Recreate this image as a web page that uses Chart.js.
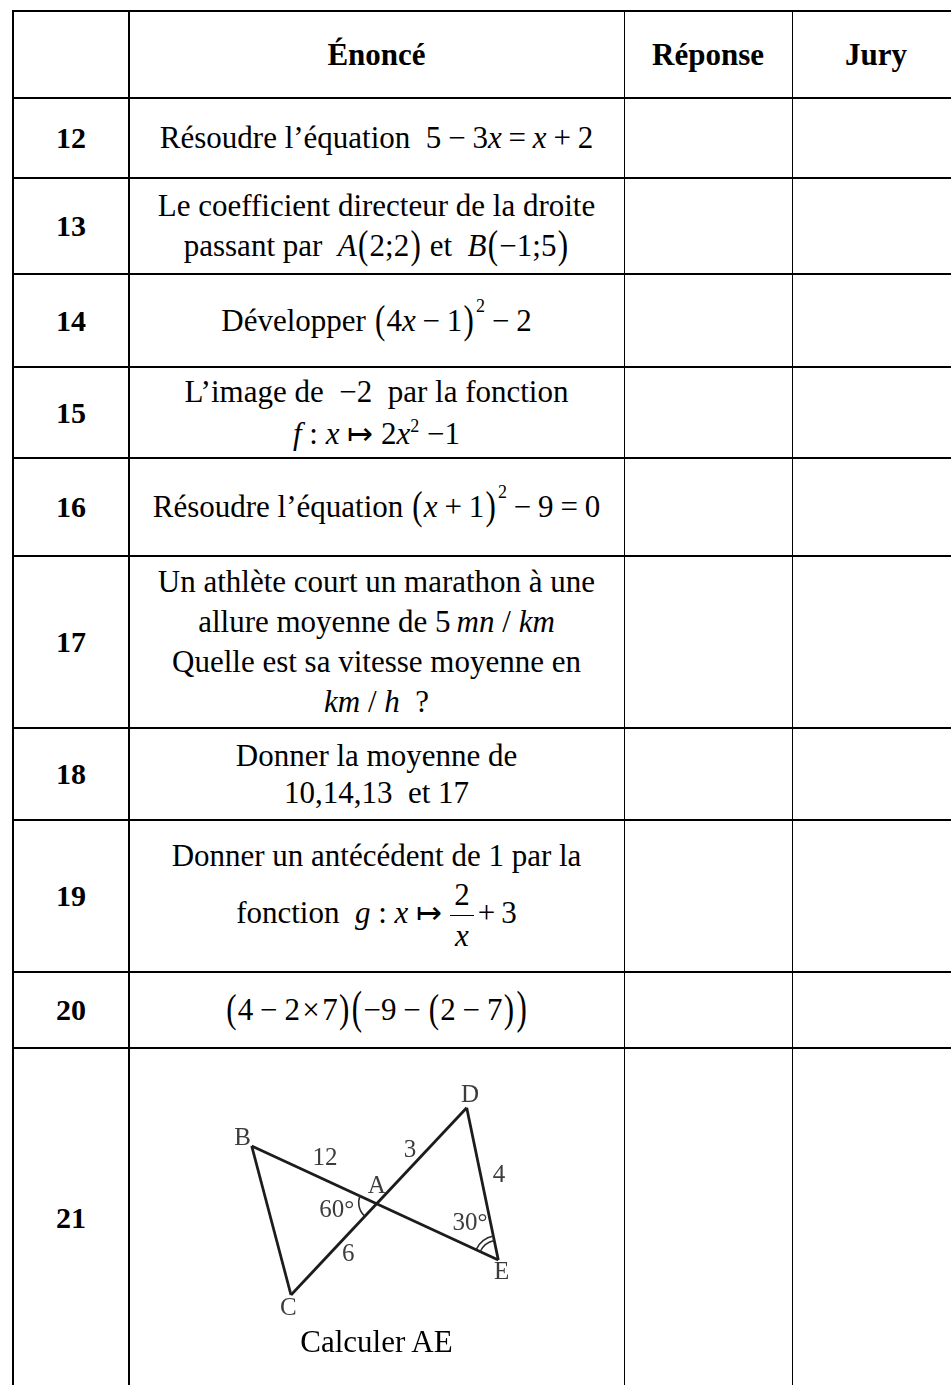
<!DOCTYPE html>
<html lang="fr">
<head>
<meta charset="utf-8">
<title>Questions 12 à 21</title>
<script src="https://cdn.jsdelivr.net/npm/chart.js@4.4.1/dist/chart.umd.min.js"></script>
<style>
  html, body { margin: 0; padding: 0; background: #fff; overflow: hidden; width: 951px; height: 1385px; }
  body { position: relative; font-family: 'Liberation Serif', 'Times New Roman', serif; color: #000; }
  .line { position: absolute; background: #000; }
  .cell { position: absolute; box-sizing: border-box; display: flex; align-items: center; justify-content: center; text-align: center; font-size: 31px; line-height: 38px; white-space: nowrap; }
  .head { font-weight: bold; }
  .num { font-weight: bold; font-size: 30px; }
  .cell i { font-style: italic; }
  .op { margin: 0 0.22em; }
  .tm { margin: 0 0.08em; }
  .bp { display: inline-block; transform: scaleY(1.32); transform-origin: 50% 62%; margin: 0 0.04em; }
  .bp2 { display: inline-block; transform: scaleY(1.5); transform-origin: 50% 62%; margin: 0 0.04em; }
  sup { font-size: 18px; line-height: 0; vertical-align: 12px; }
  sup.hi { vertical-align: 19px; margin-left: 1px; }
  .frac { display: inline-block; vertical-align: middle; text-align: center; line-height: 40px; margin: 0 4px 0 8px; }
  .frac > span { display: block; padding: 0 4px; }
  .frac .n { border-bottom: 1.5px solid #000; }
  #figure { position: absolute; left: 220px; top: 1075px; width: 320px; height: 255px; }
</style>
</head>
<body>
<div id="figure"><canvas id="figChart"></canvas></div>
<script>
// grille du tableau (bords en px)
const colEdges = [13, 129, 624, 792, 960];
const rowEdges = [11, 98, 178, 274, 367, 458, 556, 728, 820, 972, 1048, 1387];

const headers = ['', 'Énoncé', 'Réponse', 'Jury'];
const rowNumbers = ['12', '13', '14', '15', '16', '17', '18', '19', '20', '21'];
const statements = [
  'Résoudre l’équation&nbsp; 5<span class="op">−</span>3<i>x</i><span class="op">=</span><i>x</i><span class="op">+</span>2',
  'Le coefficient directeur de la droite<br>passant par&nbsp; <i>A</i><span class="bp">(</span>2;2<span class="bp">)</span> et&nbsp; <i>B</i><span class="bp">(</span>−1;5<span class="bp">)</span>',
  'Développer <span class="bp">(</span>4<i>x</i><span class="op">−</span>1<span class="bp">)</span><sup class="hi">2</sup><span class="op">−</span>2',
  'L’image de&nbsp; −2&nbsp; par la fonction<br><i>f</i> : <i>x</i> ↦ 2<i>x</i><sup>2</sup> −1',
  'Résoudre l’équation <span class="bp">(</span><i>x</i><span class="op">+</span>1<span class="bp">)</span><sup class="hi">2</sup><span class="op">−</span>9<span class="op">=</span>0',
  'Un athlète court un marathon à une<br>allure moyenne de 5&#8201;<i>mn</i> / <i>km</i><br>Quelle est sa vitesse moyenne en<br><i>km</i> / <i>h</i>&nbsp; ?',
  'Donner la moyenne de<br>10,14,13&nbsp; et 17',
  'Donner un antécédent de 1 par la<br>fonction&nbsp; <i>g</i> : <i>x</i> ↦<span class="frac"><span class="n">2</span><span><i>x</i></span></span>+&#8201;3',
  '<span class="bp">(</span>4<span class="op">−</span>2<span class="tm">×</span>7<span class="bp">)</span><span class="bp2">(</span>−9<span class="op">−</span><span class="bp">(</span>2<span class="op">−</span>7<span class="bp">)</span><span class="bp2">)</span>',
  'Calculer AE'
];
const rowLineHeights = [38, 40, 38, 42, 38, 40, 37, 38, 38, 38];

// figure de la question 21 (repère du dessin, y vers le haut)
const pointNames = ['A', 'B', 'C', 'D', 'E'];
const pointX = [156.7, 31.7, 71, 246.7, 278.3];
const pointY = [127.3, 184, 35, 222.3, 70];
const segments = [['B', 'E'], ['C', 'D'], ['B', 'C'], ['D', 'E']];

const labelTexts = ['B', 'D', 'A', 'C', 'E', '12', '3', '4', '6', '60°', '30°'];
const labelX = [22.7, 250, 156.7, 68.3, 281.7, 105, 190, 279, 128.3, 116.7, 250];
const labelY = [192, 235, 144, 21.7, 57.3, 172, 180, 155, 76, 119.3, 106.7];

// angles marqués : sommet, côté de départ, côté d'arrivée, nombre d'arcs
const angleVertex = ['A', 'E'];
const angleFrom = ['C', 'A'];
const angleTo = ['B', 'D'];
const angleArcs = [1, 2];

function addLine(left, top, width, height) {
  const d = document.createElement('div');
  d.className = 'line';
  d.style.left = left + 'px';
  d.style.top = top + 'px';
  d.style.width = width + 'px';
  d.style.height = height + 'px';
  document.body.appendChild(d);
}

function addCell(c, r, html, cls, lh) {
  const d = document.createElement('div');
  d.className = 'cell ' + (cls || '');
  d.style.left = colEdges[c] + 'px';
  d.style.top = rowEdges[r] + 'px';
  d.style.width = (colEdges[c + 1] - colEdges[c]) + 'px';
  d.style.height = (rowEdges[r + 1] - rowEdges[r]) + 'px';
  if (lh) d.style.lineHeight = lh + 'px';
  const inner = document.createElement('div');
  inner.innerHTML = html;
  d.appendChild(inner);
  document.body.appendChild(d);
  return d;
}

const totalW = colEdges[colEdges.length - 1] - colEdges[0] + 2;
const totalH = rowEdges[rowEdges.length - 1] - rowEdges[0] + 2;
rowEdges.forEach(y => addLine(colEdges[0] - 1, y - 1, totalW, 2));
colEdges.forEach((x, i) => {
  const w = (i === 2 || i === 3) ? 1 : 2;
  addLine(x - w / 2, rowEdges[0] - 1, w, totalH);
});

headers.forEach((h, c) => addCell(c, 0, h, 'head'));
rowNumbers.forEach((n, i) => addCell(0, i + 1, n, 'num'));
statements.forEach((s, i) => {
  const cell = addCell(1, i + 1, s, '', rowLineHeights[i]);
  if (i === statements.length - 1) {
    cell.style.alignItems = 'flex-end';
    cell.style.paddingBottom = '26px';
  }
});

// --- figure ---
const pt = name => {
  const k = pointNames.indexOf(name);
  return { x: pointX[k], y: pointY[k] };
};

const segmentDatasets = segments.map(([a, b]) => ({
  data: [pt(a), pt(b)],
  showLine: true,
  borderColor: '#1c1c1c',
  borderWidth: 2.8,
  pointRadius: 0,
  clip: false
}));

const figurePlugin = {
  id: 'figureMarks',
  afterDatasetsDraw(chart) {
    const { ctx, scales: { x, y } } = chart;
    const px = p => ({ x: x.getPixelForValue(p.x), y: y.getPixelForValue(p.y) });
    ctx.save();
    // arcs d'angle
    ctx.strokeStyle = '#2a2a2a';
    ctx.lineWidth = 1.5;
    angleVertex.forEach((v, i) => {
      const o = px(pt(v));
      const f = px(pt(angleFrom[i]));
      const t = px(pt(angleTo[i]));
      const a1 = Math.atan2(f.y - o.y, f.x - o.x);
      const a2 = Math.atan2(t.y - o.y, t.x - o.x);
      for (let k = 0; k < angleArcs[i]; k++) {
        const r = (i === 0 ? 18 : 20) + k * 4.5;
        ctx.beginPath();
        ctx.arc(o.x, o.y, r, a1, a2, false);
        ctx.stroke();
      }
    });
    // noms et mesures
    ctx.fillStyle = '#3c3c3c';
    ctx.font = '25px "Liberation Serif", "Times New Roman", serif';
    ctx.textAlign = 'center';
    ctx.textBaseline = 'middle';
    labelTexts.forEach((t, i) => {
      ctx.fillText(t, x.getPixelForValue(labelX[i]), y.getPixelForValue(labelY[i]));
    });
    ctx.restore();
  }
};

new Chart(document.getElementById('figChart'), {
  type: 'scatter',
  data: { datasets: segmentDatasets },
  options: {
    responsive: true,
    maintainAspectRatio: false,
    animation: false,
    events: [],
    layout: { padding: 0 },
    scales: {
      x: { type: 'linear', min: 0, max: 320, display: false },
      y: { type: 'linear', min: 0, max: 255, display: false }
    },
    plugins: {
      legend: { display: false },
      tooltip: { enabled: false }
    }
  },
  plugins: [figurePlugin]
});
</script>
</body>
</html>
